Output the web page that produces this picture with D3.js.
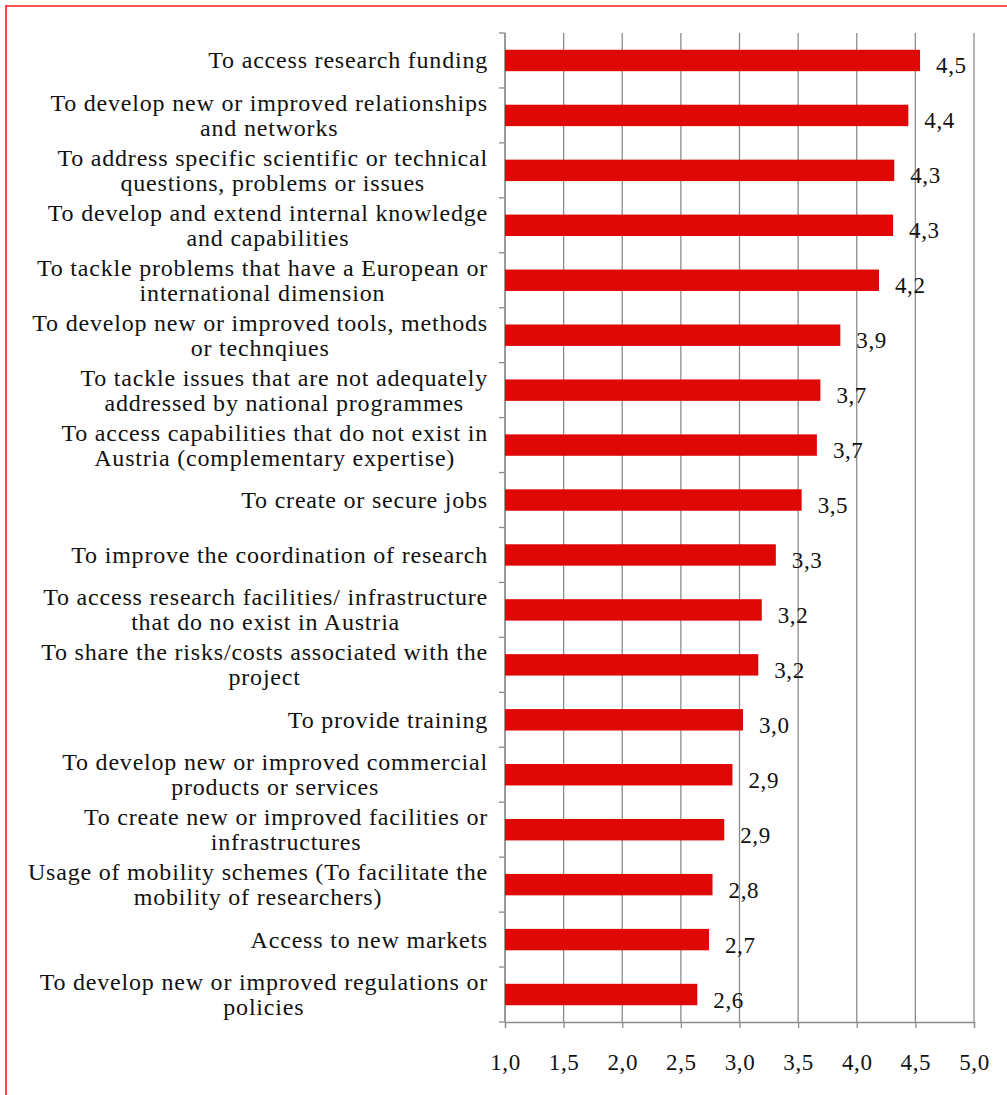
<!DOCTYPE html>
<html>
<head>
<meta charset="utf-8">
<script src="https://cdn.jsdelivr.net/npm/d3@7"></script>
<style>
  html, body { margin: 0; padding: 0; background: #fff; }
  svg { display: block; }
  text { font-family: "Liberation Serif", "Times New Roman", serif; fill: #111; }
</style>
</head>
<body>
<svg id="chart" width="1007" height="1095"></svg>
<script>
// Motivations for participation, mean rating (1 = low, 5 = high)
const categories = [
  "To access research funding",
  "To develop new or improved relationships\nand networks",
  "To address specific scientific or technical\nquestions, problems or issues",
  "To develop and extend internal knowledge\nand capabilities",
  "To tackle problems that have a European or\ninternational dimension",
  "To develop new or improved tools, methods\nor technqiues",
  "To tackle issues that are not adequately\naddressed by national programmes",
  "To access capabilities that do not exist in\nAustria (complementary expertise)",
  "To create or secure jobs",
  "To improve the coordination of research",
  "To access research facilities/ infrastructure\nthat do no exist in  Austria",
  "To share the risks/costs associated with the\nproject",
  "To provide training",
  "To develop new or improved commercial\nproducts or services",
  "To create new or improved facilities or\ninfrastructures",
  "Usage of mobility schemes (To facilitate the\nmobility of researchers)",
  "Access to new markets",
  "To develop new or improved regulations or\npolicies"
];

const values = [4.54, 4.44, 4.32, 4.31, 4.19, 3.86, 3.69, 3.66, 3.53,
                3.31, 3.19, 3.16, 3.03, 2.94, 2.87, 2.77, 2.74, 2.64];

const xTicks = [1.0, 1.5, 2.0, 2.5, 3.0, 3.5, 4.0, 4.5, 5.0];

const fmt = v => d3.format(".1f")(v).replace(".", ",");

const svg = d3.select("#chart");
const W = 1007, H = 1095;
const plot = { left: 505, right: 974, top: 33, bottom: 1022 };

// frame
svg.append("path")
  .attr("d", `M6,${H} L6,6 L${W},6`)
  .attr("fill", "none")
  .attr("stroke", "#ff1a1a")
  .attr("stroke-width", 1.6);

const x = d3.scaleLinear().domain([1, 5]).range([plot.left, plot.right]);
const y = d3.scaleBand()
  .domain(categories)
  .range([plot.top, plot.bottom])
  .paddingInner(0.61)
  .paddingOuter(0.305);

// vertical gridlines
svg.append("g")
  .selectAll("line")
  .data(xTicks)
  .join("line")
  .attr("x1", d => x(d)).attr("x2", d => x(d))
  .attr("y1", plot.top).attr("y2", plot.bottom)
  .attr("stroke", "#8c8c8c")
  .attr("stroke-width", 1.3);

// bottom axis
const xAxis = svg.append("g")
  .attr("transform", `translate(0,${plot.bottom})`)
  .call(d3.axisBottom(x).tickValues(xTicks).tickSize(6).tickPadding(26).tickFormat(fmt));
xAxis.select(".domain").attr("stroke", "#8c8c8c").attr("stroke-width", 1.3);
xAxis.selectAll(".tick line").attr("stroke", "#8c8c8c").attr("stroke-width", 1.3);
xAxis.selectAll(".tick text")
  .attr("font-size", 23)
  .attr("letter-spacing", 0.6)
  .style("font-family", '"Liberation Serif", serif')
  .attr("fill", "#111");

// left axis line with ticks at band boundaries
const boundaries = d3.range(categories.length + 1).map(i => plot.top + i * (plot.bottom - plot.top) / categories.length);
svg.append("line")
  .attr("x1", plot.left).attr("x2", plot.left)
  .attr("y1", plot.top).attr("y2", plot.bottom)
  .attr("stroke", "#8c8c8c").attr("stroke-width", 1.3);
svg.append("g")
  .selectAll("line")
  .data(boundaries)
  .join("line")
  .attr("x1", plot.left - 6).attr("x2", plot.left)
  .attr("y1", d => d).attr("y2", d => d)
  .attr("stroke", "#8c8c8c").attr("stroke-width", 1.3);

// bars
svg.append("g")
  .selectAll("rect")
  .data(categories)
  .join("rect")
  .attr("x", x(1))
  .attr("y", d => y(d))
  .attr("width", (d, i) => x(values[i]) - x(1))
  .attr("height", y.bandwidth())
  .attr("fill", "#de0906");

// value labels
svg.append("g")
  .selectAll("text")
  .data(categories)
  .join("text")
  .attr("x", (d, i) => x(values[i]) + 16)
  .attr("y", d => y(d) + y.bandwidth() / 2 + 13)
  .attr("font-size", 23)
  .attr("letter-spacing", 0.6)
  .text((d, i) => fmt(values[i]));

// category labels: block right-aligned, lines centred within the block
const labelRight = 488;
const lineH = 25;
const lg = svg.append("g");
categories.forEach(cat => {
  const lines = cat.split("\n");
  const cy = y(cat) + y.bandwidth() / 2;
  const t = lg.append("text")
    .attr("font-size", 24)
    .attr("letter-spacing", 0.8)
    .attr("text-anchor", "middle");
  lines.forEach((ln, j) => {
    t.append("tspan")
      .attr("y", cy + 8 + (j - (lines.length - 1) / 2) * lineH)
      .text(ln);
  });
  const widths = t.selectAll("tspan").nodes().map(n => n.getComputedTextLength());
  const cx = labelRight - d3.max(widths) / 2;
  t.selectAll("tspan").attr("x", cx);
});
</script>
</body>
</html>
